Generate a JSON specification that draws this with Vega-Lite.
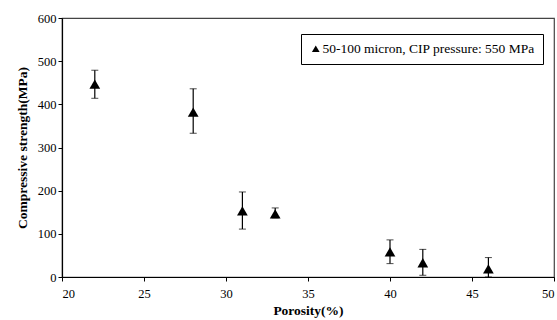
{
  "$schema": "https://vega.github.io/schema/vega-lite/v6.json",
  "width": 492,
  "height": 259,
  "autosize": {"type": "none"},
  "padding": {"left": 62, "top": 18, "right": 3, "bottom": 43},
  "background": "white",
  "config": {
    "font": "Liberation Serif",
    "view": {"stroke": "#444444", "strokeWidth": 1.2},
    "axis": {
      "grid": false,
      "domainColor": "black",
      "domainWidth": 1.2,
      "tickColor": "black",
      "tickSize": 4,
      "labelFont": "Liberation Serif",
      "labelFontSize": 12.5,
      "labelColor": "black",
      "titleFont": "Liberation Serif",
      "titleFontSize": 13.5,
      "titleFontWeight": "bold",
      "titleColor": "black"
    }
  },
  "data": {
    "values": [
      {"porosity": 22, "strength": 447, "lo": 414, "hi": 479, "series": "50-100 micron, CIP pressure: 550 MPa"},
      {"porosity": 28, "strength": 382, "lo": 333, "hi": 436, "series": "50-100 micron, CIP pressure: 550 MPa"},
      {"porosity": 31, "strength": 153, "lo": 111, "hi": 197, "series": "50-100 micron, CIP pressure: 550 MPa"},
      {"porosity": 33, "strength": 146, "lo": 137, "hi": 160, "series": "50-100 micron, CIP pressure: 550 MPa"},
      {"porosity": 40, "strength": 58, "lo": 31, "hi": 86, "series": "50-100 micron, CIP pressure: 550 MPa"},
      {"porosity": 42, "strength": 33, "lo": 4, "hi": 64, "series": "50-100 micron, CIP pressure: 550 MPa"},
      {"porosity": 46, "strength": 19, "lo": 0, "hi": 45, "series": "50-100 micron, CIP pressure: 550 MPa"}
    ]
  },
  "encoding": {
    "x": {
      "field": "porosity",
      "type": "quantitative",
      "scale": {"domain": [20, 50], "nice": false, "zero": false},
      "axis": {"title": "Porosity(%)", "values": [20, 25, 30, 35, 40, 45, 50], "titlePadding": 4, "labelPadding": 6}
    }
  },
  "layer": [
    {
      "mark": {"type": "errorbar", "ticks": {"size": 7, "color": "black", "strokeWidth": 1.2}, "rule": {"color": "black", "strokeWidth": 1.2}},
      "encoding": {
        "y": {
          "field": "lo",
          "type": "quantitative",
          "scale": {"domain": [0, 600], "nice": false},
          "axis": {"title": "Compressive strength(MPa)", "values": [0, 100, 200, 300, 400, 500, 600], "titlePadding": 8, "labelPadding": 2}
        },
        "y2": {"field": "hi"}
      }
    },
    {
      "mark": {"type": "point", "shape": "triangle-up", "filled": true, "size": 115, "opacity": 1},
      "encoding": {
        "y": {
          "field": "strength",
          "type": "quantitative",
          "title": "Compressive strength(MPa)"
        },
        "color": {
          "field": "series",
          "type": "nominal",
          "scale": {"range": ["black"]},
          "legend": {
            "title": null,
            "orient": "none",
            "legendX": 239,
            "legendY": 16,
            "strokeColor": "black",
            "fillColor": "white",
            "padding": 8,
            "symbolType": "triangle-up",
            "symbolSize": 60,
            "labelFont": "Liberation Serif",
            "labelFontSize": 13.5,
            "labelLimit": 0,
            "labelColor": "black",
            "labelOffset": 0
          }
        }
      }
    }
  ]
}
